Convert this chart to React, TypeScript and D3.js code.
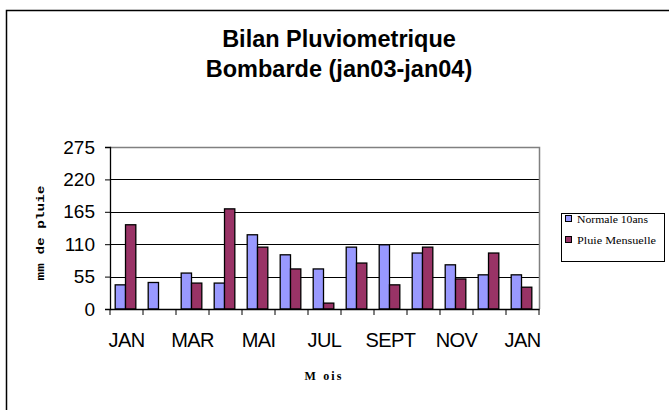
import { useEffect, useRef } from 'react'
import * as d3 from 'd3'

const months = ['JAN', 'FEV', 'MAR', 'AVR', 'MAI', 'JUIN', 'JUL', 'AOUT', 'SEPT', 'OCT', 'NOV', 'DEC', 'JAN ']
const monthLabels = ['JAN', '', 'MAR', '', 'MAI', '', 'JUL', '', 'SEPT', '', 'NOV', '', 'JAN']
const normale = [41, 45, 61, 44, 126, 92, 68, 105, 109, 95, 75, 58, 58]
const pluie = [143, 0, 44, 170, 105, 68, 10, 78, 41, 105, 51, 95, 37]
const seriesNames = ['Normale 10ans', 'Pluie Mensuelle']
const seriesColors = ['#9999FF', '#993366']
const yTicks = [0, 55, 110, 165, 220, 275]

const App = () => {
  const svgRef = useRef<SVGSVGElement | null>(null)

  useEffect(() => {
    if (!svgRef.current) return
    const width = 669
    const height = 410
    const svg = d3.select(svgRef.current)
    svg.selectAll('*').remove()
    svg.attr('width', width).attr('height', height)

    // outer chart frame (only top and left edges show)
    svg.append('rect')
      .attr('x', 6.5).attr('y', 10.5)
      .attr('width', 700).attr('height', 450)
      .attr('fill', 'white').attr('stroke', '#000').attr('stroke-width', 1.5)

    // title
    const title = svg.append('text')
      .attr('text-anchor', 'middle')
      .attr('font-family', 'Liberation Sans, Arial, sans-serif')
      .attr('font-weight', 'bold')
      .attr('font-size', '23.5px')
    title.append('tspan').attr('x', 339).attr('y', 47).text('Bilan Pluviometrique')
    title.append('tspan').attr('x', 339).attr('y', 77).text('Bombarde (jan03-jan04)')

    const left = 110, right = 539, top = 147, bottom = 309

    const x0 = d3.scaleBand().domain(months).range([left, right]).padding(0)
    const x1 = d3.scaleBand().domain(seriesNames).range([0, x0.bandwidth()])
      .paddingInner(0).paddingOuter(0.6).align(0.42)
    const y = d3.scaleLinear().domain([0, 275]).range([bottom, top])

    // gridlines
    svg.append('g').selectAll('line')
      .data(yTicks.filter(d => d > 0 && d < 275))
      .join('line')
      .attr('x1', left).attr('x2', right)
      .attr('y1', d => Math.round(y(d)) + 0.5).attr('y2', d => Math.round(y(d)) + 0.5)
      .attr('stroke', '#000').attr('stroke-width', 1)

    // plot border top/right
    svg.append('path')
      .attr('d', `M${left},${top + 0.5}H${right + 0.5}V${bottom}`)
      .attr('fill', 'none').attr('stroke', '#808080').attr('stroke-width', 1.5)

    // bars
    const data = months.map((m, i) => ({ m, vals: [normale[i], pluie[i]] }))
    const groups = svg.append('g').selectAll('g')
      .data(data).join('g')
      .attr('transform', d => `translate(${x0(d.m)},0)`)
    groups.selectAll('rect')
      .data(d => d.vals.map((v, k) => ({ v, k })))
      .join('rect')
      .attr('x', d => x1(seriesNames[d.k])!)
      .attr('y', d => y(d.v))
      .attr('width', x1.bandwidth())
      .attr('height', d => y(0) - y(d.v))
      .attr('fill', d => seriesColors[d.k])
      .attr('stroke', '#000').attr('stroke-width', 1.3)
      .style('display', d => d.v > 0 ? null : 'none')

    // y axis
    const yAxis = svg.append('g')
      .attr('transform', `translate(${left},0)`)
      .call(d3.axisLeft(y).tickValues(yTicks).tickSize(5).tickPadding(10).tickFormat(d3.format('d')))
    yAxis.select('.domain').attr('stroke', '#000').attr('stroke-width', 1.3)
    yAxis.selectAll('.tick line').attr('stroke', '#000')
    yAxis.selectAll('text')
      .attr('font-family', 'Liberation Sans, Arial, sans-serif')
      .attr('font-size', '19px').attr('fill', '#000')

    // x axis
    const xAxis = svg.append('g')
      .attr('transform', `translate(0,${bottom})`)
      .call(d3.axisBottom(x0).tickSize(0).tickPadding(24).tickFormat((d, i) => monthLabels[i]))
    xAxis.select('.domain').attr('stroke', '#000').attr('stroke-width', 1.3)
    xAxis.selectAll('text')
      .attr('font-family', 'Liberation Sans, Arial, sans-serif')
      .attr('font-size', '20px').attr('letter-spacing', '-0.6px').attr('fill', '#000')
    xAxis.append('g').selectAll('line')
      .data(months.map(m => x0(m)!).concat([right]))
      .join('line')
      .attr('x1', d => d).attr('x2', d => d)
      .attr('y1', 0).attr('y2', 6)
      .attr('stroke', '#000')

    // axis titles
    svg.append('text')
      .attr('transform', `translate(44,${(top + bottom) / 2 + 5}) rotate(-90)`)
      .attr('text-anchor', 'middle')
      .attr('font-family', 'Liberation Mono, Courier New, monospace')
      .attr('font-weight', 'bold')
      .attr('font-size', '11px')
      .attr('textLength', 95).attr('lengthAdjust', 'spacingAndGlyphs')
      .text('mm de pluie')
    svg.append('text')
      .attr('x', 323).attr('y', 380)
      .attr('text-anchor', 'middle')
      .attr('font-family', 'Liberation Serif, Times New Roman, serif')
      .attr('font-weight', 'bold')
      .attr('font-size', '12px')
      .attr('textLength', 37)
      .text('M ois')

    // legend
    const lg = svg.append('g')
    lg.append('rect')
      .attr('x', 561.5).attr('y', 213.5).attr('width', 103).attr('height', 48)
      .attr('fill', 'white').attr('stroke', '#000')
    const items = lg.selectAll('g.item')
      .data(seriesNames).join('g')
      .attr('class', 'item')
      .attr('transform', (d, i) => `translate(565,${215 + i * 21})`)
    items.append('rect')
      .attr('width', 6).attr('height', 6)
      .attr('x', 0.5).attr('y', 0.5)
      .attr('fill', (d, i) => seriesColors[i]).attr('stroke', '#000')
    items.append('text')
      .attr('x', 12).attr('y', 7.5)
      .attr('font-family', 'Liberation Serif, Times New Roman, serif')
      .attr('font-size', '10.5px')
      .attr('textLength', (d, i) => i === 0 ? 71 : 79)
      .attr('lengthAdjust', 'spacingAndGlyphs')
      .text(d => d)
  }, [])

  return (
    <div style={{ position: 'absolute', left: 0, top: 0 }}>
      <svg ref={svgRef} style={{ display: 'block' }}></svg>
    </div>
  )
}

export default App
